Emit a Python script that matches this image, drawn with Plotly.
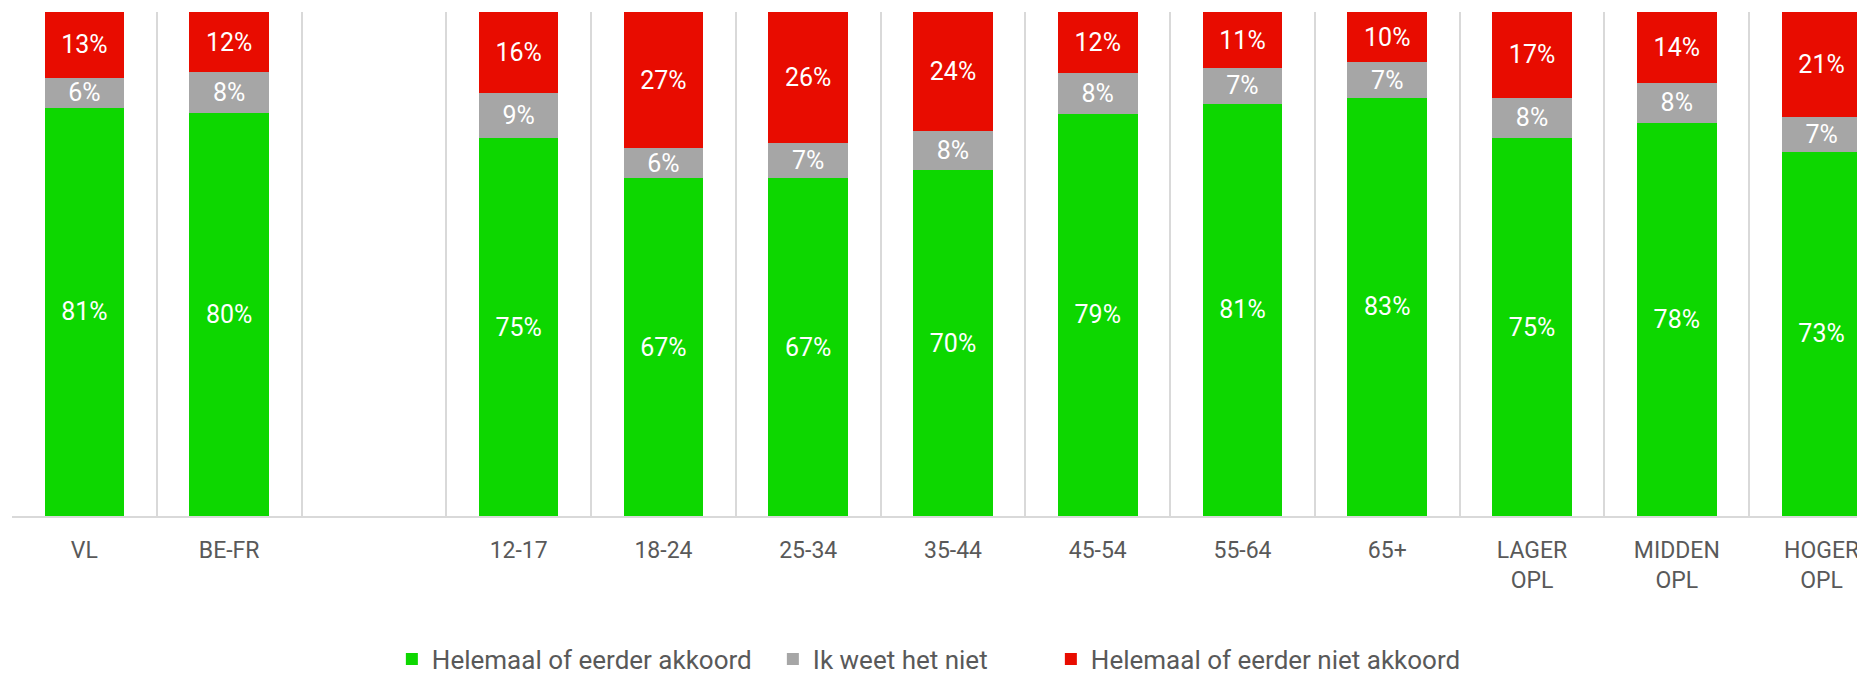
import plotly.graph_objects as go

categories = ["VL", "BE-FR", " ", "12-17", "18-24", "25-34", "35-44", "45-54",
              "55-64", "65+", "LAGER<br>OPL", "MIDDEN<br>OPL", "HOGER<br>OPL"]
akkoord = [81, 80, None, 75, 67, 67, 70, 79, 81, 83, 75, 78, 73]
weet_niet = [6, 8, None, 9, 6, 7, 8, 8, 7, 7, 8, 8, 7]
niet_akkoord = [13, 12, None, 16, 27, 26, 24, 12, 11, 10, 17, 14, 21]

series_names = ["Helemaal of eerder akkoord", "Ik weet het niet", "Helemaal of eerder niet akkoord"]
series_values = [akkoord, weet_niet, niet_akkoord]
colors = ["#0dd700", "#a6a6a6", "#e80c00"]
legend_widths = [336, 233, None]

fig = go.Figure()
for name, vals, col, lw in zip(series_names, series_values, colors, legend_widths):
    fig.add_trace(go.Bar(
        x=categories, y=vals, name=name,
        marker=dict(color=col, line=dict(width=0)),
        text=[f"{v}%" if v is not None else "" for v in vals],
        texttemplate="%{text}",
        textposition="inside", insidetextanchor="middle", textangle=0,
        insidetextfont=dict(family="Roboto", size=25, color="white"),
        hoverinfo="skip",
        legendwidth=lw,
    ))

fig.update_layout(
    width=1857, height=668,
    barmode="stack", barnorm="percent", bargap=0.45,
    plot_bgcolor="white", paper_bgcolor="white",
    margin=dict(l=4, r=0, t=4, b=160, autoexpand=False),
    uniformtext=dict(minsize=25, mode="show"),
    showlegend=True,
    legend=dict(orientation="h", xanchor="left", x=0.205, yanchor="middle", y=-0.284,
                font=dict(family="Roboto", size=26, color="#595959"),
                traceorder="normal", bgcolor="rgba(0,0,0,0)"),
    font=dict(family="Roboto"),
)
fig.update_xaxes(
    type="category", range=[-0.5, 12.3],
    tickson="boundaries", showgrid=True, gridcolor="#d9d9d9", gridwidth=2,
    showline=True, linecolor="#d9d9d9", linewidth=2,
    ticks="", tickfont=dict(family="Roboto", size=23, color="#595959"),
    ticklabelstandoff=12,
)
fig.update_yaxes(range=[0, 100], visible=False, showgrid=False)

fig.write_html("out.html")
